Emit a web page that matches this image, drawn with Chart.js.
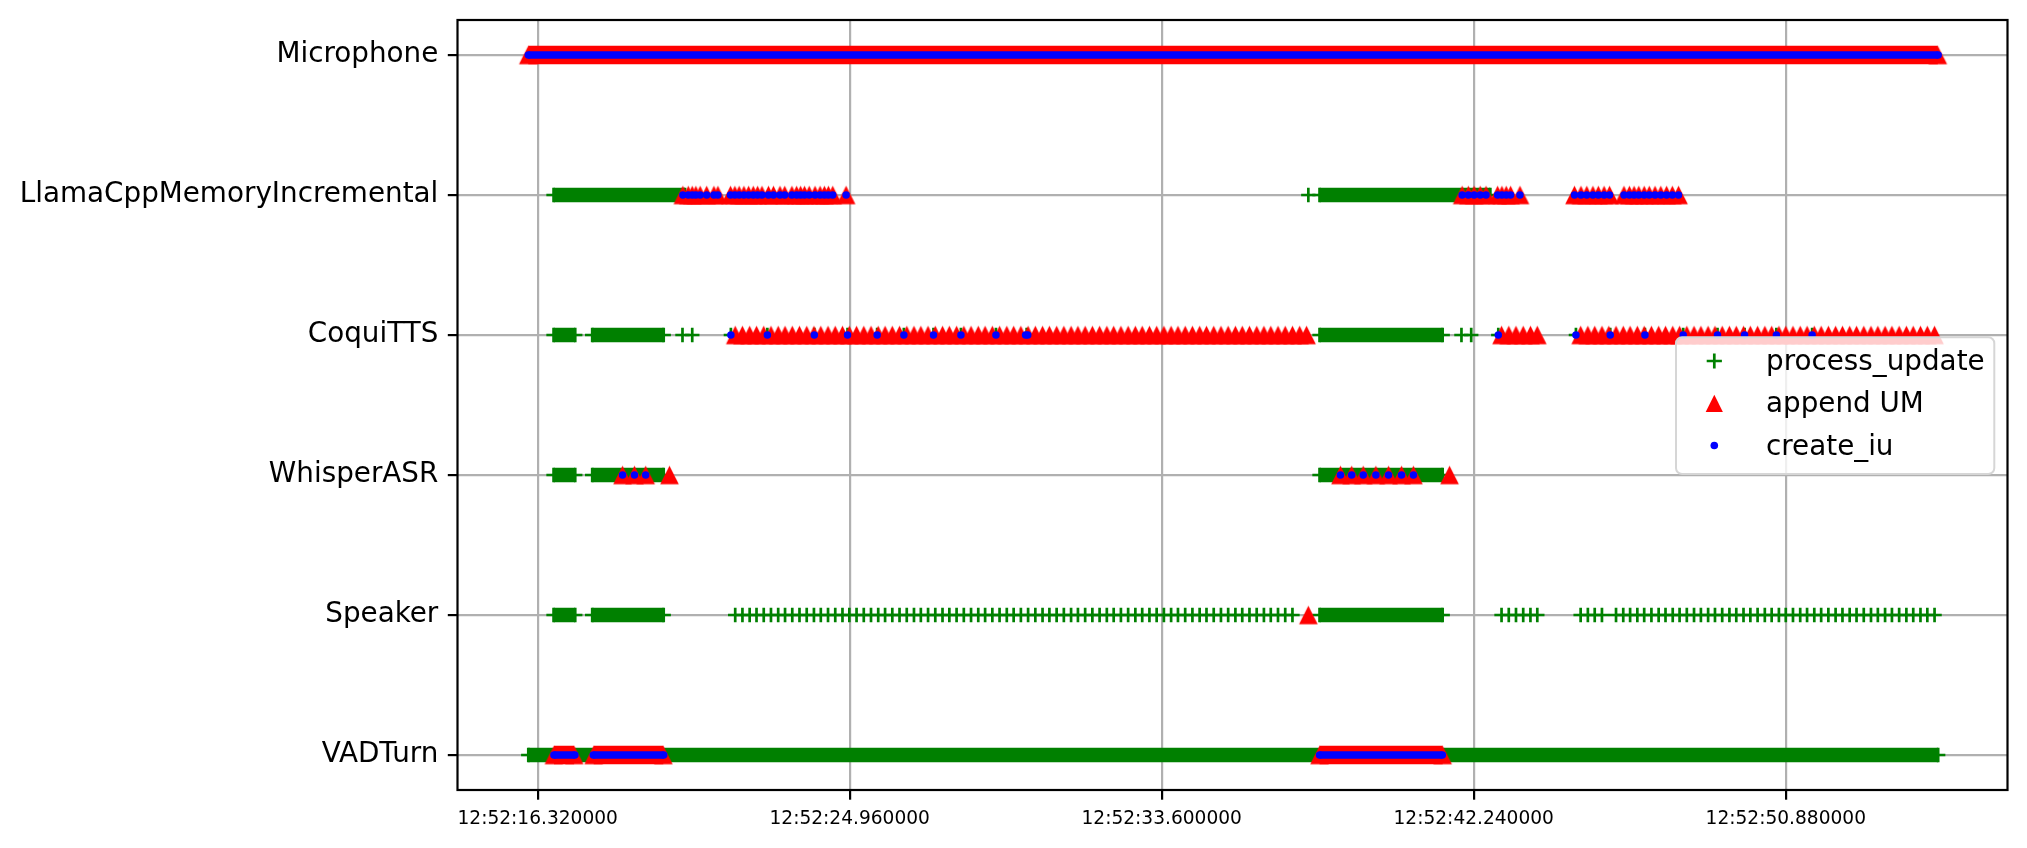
<!DOCTYPE html>
<html>
<head>
<meta charset="utf-8">
<style>
html,body{margin:0;padding:0;background:#fff;overflow:hidden}
#wrap{width:2027px;height:848px;position:relative}
canvas{display:block}
</style>
<script src="https://cdn.jsdelivr.net/npm/chart.js@4.4.1/dist/chart.umd.min.js"></script>
</head>
<body>
<div id="wrap"><canvas id="c" width="2027" height="848"></canvas></div>
<script>
// ---------- data (seconds after 12:52:00) ----------
const categories = ['VADTurn', 'Speaker', 'WhisperASR', 'CoquiTTS', 'LlamaCppMemoryIncremental', 'Microphone'];
const seriesNames = ['process_update', 'append UM', 'create_iu'];
const xTickValues = [16.32, 24.96, 33.60, 42.24, 50.88];
const timePrefix = '12:52:';
const xRange = [14.10, 57.02];

// TTS audio chunk trains (CoquiTTS append UM / Speaker process_update)
const ttsChunks1 = [
  21.79, 21.99, 22.19, 22.38, 22.58, 22.78, 22.98, 23.17, 23.37, 23.57,
  23.77, 23.97, 24.16, 24.36, 24.56, 24.76, 24.95, 25.15, 25.35, 25.55,
  25.75, 25.94, 26.14, 26.34, 26.54, 26.74, 26.93, 27.13, 27.33, 27.53,
  27.72, 27.92, 28.12, 28.32, 28.52, 28.71, 28.91, 29.11, 29.31, 29.50,
  29.70, 29.90, 30.10, 30.30, 30.49, 30.69, 30.89, 31.09, 31.28, 31.48,
  31.68, 31.88, 32.08, 32.27, 32.47, 32.67, 32.87, 33.06, 33.26, 33.46,
  33.66, 33.86, 34.05, 34.25, 34.45, 34.65, 34.84, 35.04, 35.24, 35.44,
  35.64, 35.83, 36.03, 36.23, 36.43, 36.62, 36.82, 37.02, 37.22, 37.42,
  37.61
];
const ttsChunks2a = [43.01, 43.21, 43.41, 43.61, 43.81, 44.00];
const ttsChunks2 = [
  45.20, 45.40, 45.59, 45.79, 45.98, 46.18, 46.38, 46.57, 46.77, 46.96,
  47.16, 47.36, 47.55, 47.75, 47.94, 48.14, 48.34, 48.53, 48.73, 48.92,
  49.12, 49.32, 49.51, 49.71, 49.90, 50.10, 50.30, 50.49, 50.69, 50.88,
  51.08, 51.28, 51.47, 51.67, 51.86, 52.06, 52.26, 52.45, 52.65, 52.84,
  53.04, 53.24, 53.43, 53.63, 53.82, 54.02, 54.22, 54.41, 54.61, 54.80,
  55.00
];

// process_update (green +): dense runs [start, end] and single events
const vadUpdateRuns = [[16.06, 55.10]];
const speakerUpdateRuns = [[16.76, 17.36], [17.83, 19.81], [37.97, 41.38]];
const speakerUpdatePoints = ttsChunks1.slice(0, 79).concat(ttsChunks2a, ttsChunks2.slice(0, 4), ttsChunks2.slice(5));
const whisperUpdateRuns = [[16.76, 17.36], [17.83, 19.81], [37.97, 41.38]];
const coquiUpdateRuns = [[16.76, 17.36], [17.83, 19.81], [37.97, 41.38]];
const coquiUpdatePoints = [20.33, 20.60, 21.67, 22.68, 23.98, 24.90, 25.72, 26.46, 27.28, 28.04, 29.01, 29.86,
  41.90, 42.17, 42.92, 45.07, 46.02, 46.98, 48.04, 48.99, 49.74, 50.62, 51.61];
const llamaUpdateRuns = [[16.76, 20.40], [37.97, 42.70]];
const llamaUpdatePoints = [37.66];

// append UM (red triangles)
const micAppendRuns = [[16.06, 55.09]];
const vadAppendRuns = [[16.77, 17.33], [17.87, 19.80], [37.97, 41.38]];
const speakerAppendPoints = [37.66];
const whisperAppendPoints = [18.67, 19.00, 19.31, 19.97, 38.55, 38.86, 39.18, 39.53, 39.88, 40.24, 40.57, 41.57];
const coquiAppendPoints = ttsChunks1.concat(ttsChunks2a, ttsChunks2);
const llamaAppendPoints = [
  20.34, 20.49, 20.60, 20.70, 20.82, 21.00, 21.20, 21.31, 21.66, 21.78, 21.90, 22.03, 22.16, 22.29, 22.41, 22.53,
  22.71, 22.85, 23.03, 23.16, 23.36, 23.49, 23.60, 23.71, 23.84, 24.00, 24.14, 24.26, 24.37, 24.49, 24.86,
  41.92, 42.09, 42.25, 42.42, 42.58, 42.90, 43.02, 43.14, 43.26, 43.52,
  45.03, 45.21, 45.37, 45.54, 45.69, 45.85, 46.00, 46.40, 46.55, 46.68, 46.81, 46.96, 47.10, 47.26, 47.42, 47.58, 47.74, 47.91
];

// create_iu (blue dots)
const micCreateRuns = [[16.06, 55.10]];
const vadCreateRuns = [[16.77, 17.35], [17.86, 19.81], [37.97, 41.37]];
const whisperCreatePoints = [18.67, 19.00, 19.31, 38.55, 38.86, 39.18, 39.53, 39.88, 40.24, 40.57];
const coquiCreatePoints = [21.67, 22.68, 23.98, 24.90, 25.72, 26.46, 27.28, 28.04, 29.01, 29.83, 29.89,
  42.92, 45.07, 46.02, 46.98, 48.04, 48.99, 49.74, 50.62, 51.61];
const llamaCreatePoints = llamaAppendPoints;

// ---------- styling ----------
const GREEN = '#008000', RED = '#ff0000', BLUE = '#0000ff';
const FONT = 'DejaVu Sans';
const PLUS_R = 7.2, PLUS_W = 2.7, TRI = 18.6, DOT_R = 3.75;

function makeTriangle(size, color) {
  const s = Math.ceil(size) + 4;
  const c = document.createElement('canvas');
  c.width = s; c.height = s;
  const g = c.getContext('2d');
  const h = size / 2, cx = s / 2, cy = s / 2;
  g.fillStyle = color;
  g.beginPath();
  g.moveTo(cx, cy - h); g.lineTo(cx + h, cy + h); g.lineTo(cx - h, cy + h);
  g.closePath(); g.fill();
  return c;
}
const triImg = makeTriangle(TRI, RED);

function buildData(rows) {
  const data = [];
  rows.forEach(([cat, runs, pts]) => {
    const y = categories.indexOf(cat);
    (runs || []).forEach(([s, e]) => { data.push({x: s, y}, {x: e, y}, {x: e, y: null}); });
    (pts || []).forEach(p => { data.push({x: p, y}, {x: p, y: null}); });
  });
  return data;
}

const datasets = [
  {
    label: seriesNames[0], order: 3,
    data: buildData([
      ['VADTurn', vadUpdateRuns, []],
      ['Speaker', speakerUpdateRuns, speakerUpdatePoints],
      ['WhisperASR', whisperUpdateRuns, []],
      ['CoquiTTS', coquiUpdateRuns, coquiUpdatePoints],
      ['LlamaCppMemoryIncremental', llamaUpdateRuns, llamaUpdatePoints]
    ]),
    borderColor: GREEN, borderWidth: 2 * PLUS_R, borderCapStyle: 'butt',
    pointStyle: 'cross', pointRadius: PLUS_R, pointBorderWidth: PLUS_W,
    pointBorderColor: GREEN, pointBackgroundColor: GREEN
  },
  {
    label: seriesNames[1], order: 2,
    data: buildData([
      ['Microphone', micAppendRuns, []],
      ['VADTurn', vadAppendRuns, []],
      ['Speaker', [], speakerAppendPoints],
      ['WhisperASR', [], whisperAppendPoints],
      ['CoquiTTS', [], coquiAppendPoints],
      ['LlamaCppMemoryIncremental', [], llamaAppendPoints]
    ]),
    borderColor: RED, borderWidth: TRI, borderCapStyle: 'butt',
    pointStyle: triImg, pointRadius: 9, pointBorderWidth: 0,
    pointBackgroundColor: RED
  },
  {
    label: seriesNames[2], order: 1,
    data: buildData([
      ['Microphone', micCreateRuns, []],
      ['VADTurn', vadCreateRuns, []],
      ['WhisperASR', [], whisperCreatePoints],
      ['CoquiTTS', [], coquiCreatePoints],
      ['LlamaCppMemoryIncremental', [], llamaCreatePoints]
    ]),
    borderColor: BLUE, borderWidth: 2 * DOT_R, borderCapStyle: 'butt',
    pointStyle: 'circle', pointRadius: DOT_R, pointBorderWidth: 0,
    pointBackgroundColor: BLUE
  }
];
datasets.forEach(d => { d.showLine = true; d.spanGaps = false; d.tension = 0; d.fill = false; d.pointHoverRadius = d.pointRadius; });

const overlayPlugin = {
  id: 'overlay',
  afterDraw(chart) {
    const {ctx, chartArea: a} = chart;
    ctx.save();
    // spines
    ctx.strokeStyle = '#000'; ctx.lineWidth = 2.2;
    ctx.strokeRect(a.left, a.top, a.right - a.left, a.bottom - a.top);
    // legend
    const bx = 1676, by = 337.3, bw = 318.3, bh = 136.7, r = 6;
    ctx.beginPath();
    ctx.roundRect(bx, by, bw, bh, r);
    ctx.fillStyle = 'rgba(255,255,255,0.8)'; ctx.fill();
    ctx.strokeStyle = '#d6d6d6'; ctx.lineWidth = 2; ctx.stroke();
    const mx = 1714.3, tx = 1766;
    const rows = [361, 403.3, 445.5];
    const bases = [369.5, 412, 454.5];
    ctx.font = '27.8px "' + FONT + '"'; ctx.fillStyle = '#000';
    ctx.textAlign = 'left'; ctx.textBaseline = 'alphabetic';
    chart.data.datasets.forEach((d, i) => {
      const y = rows[i];
      ctx.save();
      if (i === 0) {
        ctx.strokeStyle = GREEN; ctx.lineWidth = PLUS_W; ctx.lineCap = 'butt';
        ctx.beginPath();
        ctx.moveTo(mx - 7.6, y); ctx.lineTo(mx + 7.6, y);
        ctx.moveTo(mx, y - 7.6); ctx.lineTo(mx, y + 7.6);
        ctx.stroke();
      } else if (i === 1) {
        const h = 8.6;
        ctx.fillStyle = RED; ctx.beginPath();
        ctx.moveTo(mx, y - h); ctx.lineTo(mx + h, y + h); ctx.lineTo(mx - h, y + h);
        ctx.closePath(); ctx.fill();
      } else {
        ctx.fillStyle = BLUE; ctx.beginPath();
        ctx.arc(mx, y, 3.8, 0, Math.PI * 2); ctx.fill();
      }
      ctx.restore();
      ctx.fillText(d.label, tx, bases[i]);
    });
    ctx.restore();
  }
};

new Chart(document.getElementById('c'), {
  type: 'line',
  data: {datasets},
  options: {
    responsive: false, animation: false, devicePixelRatio: 1, events: [],
    layout: {padding: {left: 0, right: 19.5, top: 20, bottom: 0}},
    plugins: {legend: {display: false}, tooltip: {enabled: false}},
    scales: {
      x: {
        type: 'linear', min: xRange[0], max: xRange[1],
        afterBuildTicks: ax => { ax.ticks = xTickValues.map(v => ({value: v})); },
        afterFit: ax => { ax.height = 58; ax.paddingLeft = 0; ax.paddingRight = 0; },
        grid: {color: '#b0b0b0', lineWidth: 2.2, drawTicks: true, tickLength: 9.7, tickColor: '#000', tickWidth: 2.2},
        border: {display: false},
        ticks: {autoSkip: false, maxRotation: 0, minRotation: 0, padding: 8, color: '#000',
          font: {family: FONT, size: 18.6},
          callback: v => timePrefix + Number(v).toFixed(6)}
      },
      y: {
        type: 'linear', min: -0.25, max: 5.25,
        afterBuildTicks: ax => { ax.ticks = categories.map((c, i) => ({value: i})); },
        afterFit: ax => { ax.width = 457.5; ax.paddingTop = 0; ax.paddingBottom = 0; },
        grid: {color: '#b0b0b0', lineWidth: 2.2, drawTicks: true, tickLength: 9.7, tickColor: '#000', tickWidth: 2.2},
        border: {display: false},
        ticks: {autoSkip: false, padding: 9.5, color: '#000', font: {family: FONT, size: 27.8},
          callback: v => categories[v] !== undefined ? categories[v] : ''}
      }
    }
  },
  plugins: [overlayPlugin]
});
</script>
</body>
</html>
